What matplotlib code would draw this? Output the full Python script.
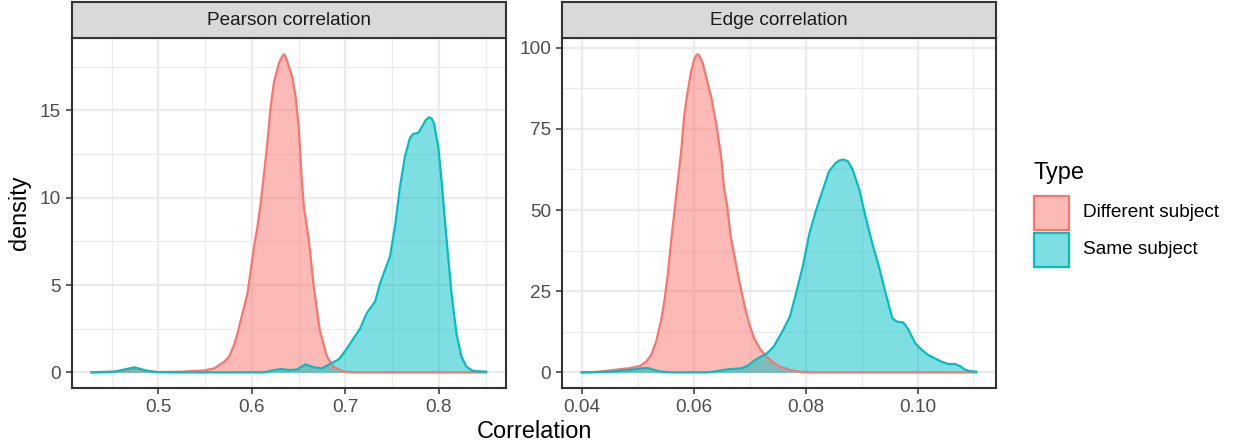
import matplotlib
matplotlib.use("Agg")
import matplotlib.pyplot as plt
from matplotlib.patches import Rectangle

plt.rcParams['font.family'] = ['Liberation Sans', 'DejaVu Sans']

RED = '#F8766D'
CYAN = '#00BFC4'

# density curves, panel "Pearson correlation"
pearson_diff_x = [0.4283, 0.4531, 0.4638, 0.4744, 0.4851, 0.4993, 0.5241, 0.5490, 0.5596, 0.5650,
                  0.5703, 0.5756, 0.5809, 0.5845, 0.5880, 0.5916, 0.5951, 0.5987, 0.6022, 0.6058,
                  0.6093, 0.6129, 0.6164, 0.6200, 0.6235, 0.6289, 0.6325, 0.6342, 0.6365, 0.6395,
                  0.6431, 0.6466, 0.6502, 0.6530, 0.6555, 0.6608, 0.6661, 0.6725, 0.6803, 0.6874,
                  0.6981, 0.7087, 0.7500, 0.8000, 0.8506]
pearson_diff_y = [0.0, 0.04, 0.13, 0.21, 0.10, 0.02, 0.04, 0.11, 0.23, 0.42,
                  0.61, 0.90, 1.57, 2.23, 2.98, 3.74, 4.50, 5.84, 7.17, 8.32,
                  9.66, 11.37, 13.11, 15.21, 16.60, 17.70, 18.10, 18.20, 18.00, 17.50,
                  16.90, 15.80, 13.90, 11.20, 9.48, 7.58, 4.90, 2.42, 0.90, 0.32,
                  0.04, 0.0, 0.0, 0.0, 0.0]
pearson_same_x = [0.4283, 0.4531, 0.4638, 0.4744, 0.4851, 0.4957, 0.5135, 0.6129, 0.6235, 0.6306,
                  0.6413, 0.6484, 0.6573, 0.6662, 0.6750, 0.6857, 0.6928, 0.7016, 0.7087, 0.7158,
                  0.7229, 0.7318, 0.7371, 0.7424, 0.7477, 0.7530, 0.7584, 0.7637, 0.7690, 0.7726,
                  0.7779, 0.7832, 0.7860, 0.7896, 0.7921, 0.7946, 0.7992, 0.8027, 0.8063, 0.8098,
                  0.8134, 0.8187, 0.8240, 0.8294, 0.8365, 0.8506]
pearson_same_y = [0.0, 0.04, 0.17, 0.29, 0.13, 0.02, 0.0, 0.0, 0.13, 0.19,
                  0.13, 0.17, 0.46, 0.29, 0.23, 0.55, 0.74, 1.37, 1.95, 2.52,
                  3.40, 4.06, 5.11, 5.88, 6.64, 8.36, 10.65, 12.37, 13.42, 13.65,
                  13.70, 14.18, 14.44, 14.60, 14.52, 14.27, 12.94, 11.03, 8.74, 6.64,
                  4.54, 2.23, 0.90, 0.32, 0.08, 0.04]

# panel "Edge correlation"
edge_diff_x = [0.0400, 0.0424, 0.0441, 0.0465, 0.0483, 0.0504, 0.0515, 0.0524, 0.0533, 0.0542,
               0.0548, 0.0554, 0.0560, 0.0566, 0.0572, 0.0578, 0.0583, 0.0589, 0.0595, 0.0601,
               0.0604, 0.0607, 0.0610, 0.0616, 0.0622, 0.0631, 0.0640, 0.0649, 0.0654, 0.0660,
               0.0666, 0.0672, 0.0681, 0.0690, 0.0699, 0.0708, 0.0720, 0.0731, 0.0743, 0.0755,
               0.0773, 0.0791, 0.0808, 0.0900, 0.1000, 0.1105]
edge_diff_y = [0.0, 0.1, 0.41, 0.93, 1.23, 1.95, 3.29, 5.35, 9.47, 16.15,
               22.33, 30.56, 40.84, 50.10, 59.36, 68.62, 78.91, 86.11, 92.28, 96.40,
               97.40, 97.94, 97.60, 95.40, 91.26, 85.08, 76.85, 66.56, 57.30, 51.13,
               41.87, 36.73, 28.50, 21.30, 15.12, 10.49, 6.89, 4.84, 2.98, 1.75,
               0.72, 0.21, 0.0, 0.0, 0.0, 0.0]
edge_same_x = [0.0400, 0.0453, 0.0483, 0.0507, 0.0518, 0.0530, 0.0542, 0.0560, 0.0625, 0.0643,
               0.0660, 0.0684, 0.0696, 0.0708, 0.0720, 0.0731, 0.0743, 0.0755, 0.0760, 0.0772,
               0.0783, 0.0795, 0.0807, 0.0819, 0.0831, 0.0842, 0.0854, 0.0861, 0.0869, 0.0876,
               0.0884, 0.0896, 0.0907, 0.0919, 0.0931, 0.0943, 0.0955, 0.0963, 0.0975, 0.0984,
               0.0996, 0.1008, 0.1019, 0.1031, 0.1043, 0.1055, 0.1067, 0.1076, 0.1084, 0.1093,
               0.1105]
edge_same_y = [0.0, 0.21, 0.72, 1.23, 1.34, 0.72, 0.21, 0.0, 0.0, 0.41,
               0.93, 1.23, 1.95, 3.60, 4.84, 5.86, 7.92, 11.52, 13.07, 17.18,
               24.38, 32.61, 42.90, 50.10, 56.28, 61.93, 64.51, 65.30, 65.53, 64.90,
               62.45, 56.28, 48.05, 39.81, 32.61, 24.38, 16.67, 15.64, 15.33, 13.07,
               8.95, 6.89, 5.35, 4.32, 3.29, 2.57, 2.57, 1.95, 0.93, 0.41,
               0.21]

types = ['Different subject', 'Same subject']

W, H = 1236, 446
fig = plt.figure(figsize=(W / 100, H / 100), dpi=100)


def px_box(x0, y0, x1, y1):
    return [x0 / W, 1 - y1 / H, (x1 - x0) / W, (y1 - y0) / H]


panels = [
    dict(title='Pearson correlation', box=(71.7, 38.4, 506, 388.3),
         curves=[(pearson_diff_x, pearson_diff_y), (pearson_same_x, pearson_same_y)],
         xticks=[0.5, 0.6, 0.7, 0.8], xlabels=['0.5', '0.6', '0.7', '0.8'],
         xminor=[0.45, 0.55, 0.65, 0.75, 0.85],
         yticks=[0, 5, 10, 15], yminor=[2.5, 7.5, 12.5, 17.5]),
    dict(title='Edge correlation', box=(562, 38.4, 996, 388.3),
         curves=[(edge_diff_x, edge_diff_y), (edge_same_x, edge_same_y)],
         xticks=[0.04, 0.06, 0.08, 0.10], xlabels=['0.04', '0.06', '0.08', '0.10'],
         xminor=[0.05, 0.07, 0.09, 0.11],
         yticks=[0, 25, 50, 75, 100], yminor=[12.5, 37.5, 62.5, 87.5]),
]

for p in panels:
    x0, y0, x1, y1 = p['box']
    ax = fig.add_axes(px_box(x0, y0, x1, y1))
    xs = [v for c in p['curves'] for v in c[0]]
    ys = [v for c in p['curves'] for v in c[1]]
    xr = max(xs) - min(xs)
    ax.set_xlim(min(xs) - 0.05 * xr, max(xs) + 0.05 * xr)
    ax.set_ylim(-0.05 * max(ys), 1.05 * max(ys))

    # same order as ggplot: each group's fill, then its outline
    for (cx, cy), col in zip(p['curves'], [RED, CYAN]):
        ax.fill_between(cx, cy, 0, color=col, alpha=0.5, lw=0, zorder=2)
        ax.plot(cx, cy, color=col, lw=1.6, zorder=3, solid_joinstyle='round')

    ax.set_xticks(p['xticks'])
    ax.set_xticklabels(p['xlabels'])
    ax.set_xticks(p['xminor'], minor=True)
    ax.set_yticks(p['yticks'])
    ax.set_yticks(p['yminor'], minor=True)
    ax.grid(which='major', color='#EBEBEB', lw=1.6, zorder=0)
    ax.grid(which='minor', color='#EBEBEB', lw=0.8, zorder=0)
    ax.set_axisbelow(True)
    ax.tick_params(which='major', length=4.5, width=1.1, color='#333333',
                   labelcolor='#4D4D4D', labelsize=13.7, pad=3.3)
    ax.tick_params(which='minor', length=0)
    for s in ax.spines.values():
        s.set_color('#333333')
        s.set_linewidth(1.5)
        s.set_zorder(5)

    # facet strip
    sx = fig.add_axes(px_box(x0, 2, x1, y0))
    sx.set_facecolor('#D9D9D9')
    sx.set_xticks([])
    sx.set_yticks([])
    for s in sx.spines.values():
        s.set_color('#333333')
        s.set_linewidth(1.5)
    sx.text(0.5, 0.5, p['title'], ha='center', va='center', fontsize=13.7,
            color='#1A1A1A', transform=sx.transAxes)

fig.text(534 / W, 1 - 432 / H, 'Correlation', ha='center', va='center', fontsize=16.9)
fig.text(20 / W, 1 - 213 / H, 'density', ha='center', va='center', rotation=90, fontsize=16.9)

# legend
leg = fig.add_axes([0, 0, 1, 1])
leg.set_xlim(0, W)
leg.set_ylim(H, 0)
leg.axis('off')
leg.text(1033, 172, 'Type', ha='left', va='center', fontsize=16.9)
for i, (name, col) in enumerate(zip(types, [RED, CYAN])):
    top = 195 + i * 36.7
    leg.add_patch(Rectangle((1034, top + 1), 34.5, 34, facecolor=col, alpha=0.5, lw=0))
    leg.add_patch(Rectangle((1034, top + 1), 34.5, 34, facecolor='none', edgecolor=col, lw=1.6))
    leg.text(1082.7, top + 17.8, name, ha='left', va='center', fontsize=13.7)

fig.savefig('out.png', dpi=100)
